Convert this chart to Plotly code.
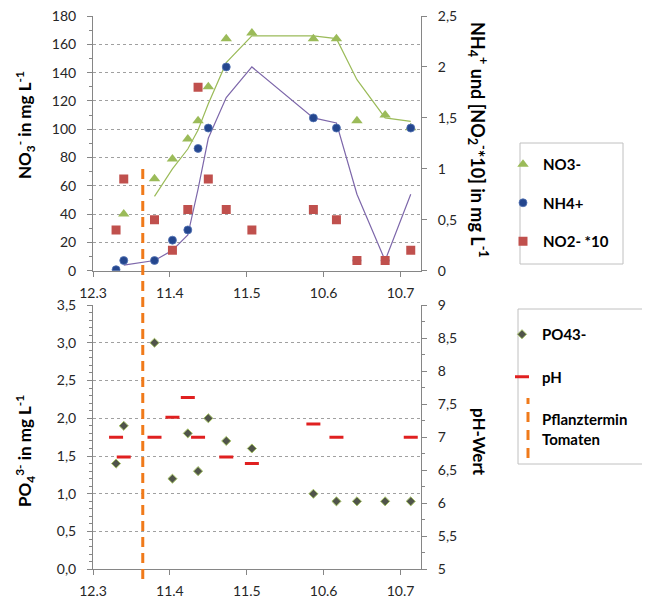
import plotly.graph_objects as go

# ---------------- data ----------------
dates = ["2012-03-21", "2012-03-24", "2012-04-05", "2012-04-12", "2012-04-18",
         "2012-04-22", "2012-04-26", "2012-05-03", "2012-05-13", "2012-06-06",
         "2012-06-15", "2012-06-23", "2012-07-04", "2012-07-14"]
no3 = [None, 40, 65, 79, 93, 106, 130, 164, 168, 164, 164, 106, 110, 101]
nh4 = [0.01, 0.1, 0.1, 0.3, 0.4, 1.2, 1.4, 2.0, None, 1.5, 1.4, 0.1, 0.1, 1.4]
no2_x10 = [0.4, 0.9, 0.5, 0.2, 0.6, 1.8, 0.9, 0.6, 0.4, 0.6, 0.5, 0.1, 0.1, 0.2]
po4 = [1.4, 1.9, 3.0, 1.2, 1.8, 1.3, 2.0, 1.7, 1.6, 1.0, 0.9, 0.9, 0.9, 0.9]
ph = [7.0, 6.7, 7.0, 7.3, 7.6, 7.0, None, 6.7, 6.6, 7.2, 7.0, None, None, 7.0]
plant_date = "2012-03-31 10:00"

tick_dates = ["2012-03-12", "2012-04-11", "2012-05-11", "2012-06-10", "2012-07-10"]
x_range = ["2012-03-12", "2012-07-18"]


def moving_avg2(values):
    """Excel-like 2-period moving average trendline (blank cells ignored)."""
    out = [None] * len(values)
    start = next(i for i, v in enumerate(values) if v is not None)
    for i in range(start + 1, len(values)):
        w = [v for v in (values[i - 1], values[i]) if v is not None]
        out[i] = sum(w) / len(w) if w else None
    return out


# page body has an 8px default margin: the figure is placed at (8, 8)
OFF = 8
W, H = 650 - OFF, 599 - OFF
FONT = "Lato"
TXT = "#262626"
AX = "#868686"
GRID = "#A0A0A0"
ORANGE = "#F07A1A"

def px(x):
    return (x - OFF) / W

def py(y):
    return 1 - (y - OFF) / H

xdom = [px(93), px(421)]
top_dom = [py(270.7), py(16)]
bot_dom = [py(569.3), py(305)]

fig = go.Figure()

# ---- top chart ----
fig.add_trace(go.Scatter(x=dates, y=moving_avg2(no3), mode="lines",
                         line=dict(color="#9BBB59", width=1.2),
                         xaxis="x", yaxis="y", showlegend=False, hoverinfo="skip"))
fig.add_trace(go.Scatter(x=dates, y=moving_avg2(nh4), mode="lines",
                         line=dict(color="#7D67AA", width=1.2),
                         xaxis="x", yaxis="y2", showlegend=False, hoverinfo="skip"))
fig.add_trace(go.Scatter(x=dates, y=no3, mode="markers", name="NO3-",
                         marker=dict(symbol="triangle-up", size=10, color="#9BBB59"),
                         xaxis="x", yaxis="y", legend="legend", legendgroup="a"))
fig.add_trace(go.Scatter(x=dates, y=nh4, mode="markers", name="NH4+",
                         marker=dict(symbol="circle", size=8, color="#24468E",
                                     line=dict(color="#5474B4", width=0.8)),
                         xaxis="x", yaxis="y2", legend="legend", legendgroup="b"))
fig.add_trace(go.Scatter(x=dates, y=no2_x10, mode="markers", name="NO2- *10",
                         marker=dict(symbol="square", size=9, color="#C0504D"),
                         xaxis="x", yaxis="y2", legend="legend", legendgroup="c"))

# ---- bottom chart ----
fig.add_trace(go.Scatter(x=dates, y=po4, mode="markers", name="PO43-",
                         marker=dict(symbol="diamond", size=7, color="#50544A",
                                     line=dict(color="#A8C468", width=1)),
                         xaxis="x2", yaxis="y3", legend="legend2", legendgroup="d"))
fig.add_trace(go.Scatter(x=dates, y=ph, mode="markers", name="pH",
                         marker=dict(symbol="line-ew", size=10,
                                     line=dict(color="#E02020", width=3)),
                         xaxis="x2", yaxis="y4", legend="legend2", legendgroup="e"))
# legend entry for the planting date (its vertical dashed symbol is drawn as a shape)
fig.add_trace(go.Scatter(x=[None], y=[None], mode="markers", name="Pflanztermin<br>Tomaten",
                         marker=dict(symbol="line-ns", size=1, color="rgba(0,0,0,0)",
                                     line=dict(color="rgba(0,0,0,0)", width=0)),
                         xaxis="x2", yaxis="y4", legend="legend2", legendgroup="f"))

# planting date dashed line spanning both charts
fig.add_shape(type="line", xref="x2", yref="paper", x0=plant_date, x1=plant_date,
              y0=py(579), y1=py(165), line=dict(color=ORANGE, width=3, dash="10px,6px"))
# legend symbol for the planting date
fig.add_shape(type="line", xref="paper", yref="paper", x0=px(528), x1=px(528),
              y0=py(458), y1=py(398), line=dict(color=ORANGE, width=3, dash="10px,8px"))

# legend boxes
fig.add_shape(type="rect", xref="paper", yref="paper", x0=px(520), x1=px(623),
              y0=py(264), y1=py(143), line=dict(color="#C0C0C0", width=1))
fig.add_shape(type="rect", xref="paper", yref="paper", x0=px(518), x1=px(648),
              y0=py(464), y1=py(309), line=dict(color="#C0C0C0", width=1))

tickfont = dict(family=FONT, size=14, color=TXT)
xcommon = dict(type="date", range=x_range, domain=xdom, tickvals=tick_dates,
               tickformat="%-d.%-m", showline=True, linecolor=AX, linewidth=1,
               ticks="outside", ticklen=5, tickcolor=AX, showgrid=False,
               zeroline=False, tickfont=tickfont, ticklabelstandoff=4, automargin=False,
               ticklabeloverflow="allow")
ycommon = dict(showline=True, linecolor=AX, ticks="outside", ticklen=5, tickcolor=AX,
               zeroline=False, tickfont=tickfont, ticklabelstandoff=8,
               automargin=False, ticklabeloverflow="allow")

fig.update_layout(
    width=W, height=H,
    margin=dict(l=0, r=0, t=0, b=0, autoexpand=False),
    paper_bgcolor="white", plot_bgcolor="white",
    separators=",.",
    font=dict(family=FONT, color=TXT),
    xaxis=dict(anchor="y", **xcommon),
    xaxis2=dict(anchor="y3", **xcommon),
    yaxis=dict(domain=top_dom, range=[0, 180], dtick=20, showgrid=True,
               gridcolor=GRID, griddash="dot", gridwidth=1,
               minor=dict(dtick=10, ticks="outside", ticklen=3, tickcolor=AX, showgrid=False),
               anchor="x", **ycommon),
    yaxis2=dict(overlaying="y", side="right", range=[0, 2.5], dtick=0.5, showgrid=False,
                anchor="x", **ycommon),
    yaxis3=dict(domain=bot_dom, range=[0, 3.5], dtick=0.5, tickformat=".1f",
                showgrid=True, gridcolor=GRID, griddash="dot", gridwidth=1,
                minor=dict(dtick=0.1, ticks="outside", ticklen=3, tickcolor=AX, showgrid=False),
                anchor="x2", **ycommon),
    yaxis4=dict(overlaying="y3", side="right", range=[5, 9], dtick=0.5, showgrid=False,
                minor=dict(dtick=0.25, ticks="outside", ticklen=3, tickcolor=AX),
                anchor="x2", **ycommon),
    legend=dict(x=px(503), y=py(148), xanchor="left", yanchor="top",
                bgcolor="rgba(0,0,0,0)", borderwidth=0, tracegroupgap=16,
                font=dict(family=FONT, size=15, color="#000000", weight="bold")),
    legend2=dict(x=px(502), y=py(318), xanchor="left", yanchor="top",
                 bgcolor="rgba(0,0,0,0)", borderwidth=0, tracegroupgap=20,
                 font=dict(family=FONT, size=15, color="#000000", weight="bold")),
)

titles = [
    ("NO<sub>3</sub><sup>-</sup> in mg L<sup>-1</sup>", 25, 125, -90, 17),
    ("NH<sub>4</sub><sup>+</sup> und [NO<sub>2</sub><sup>-</sup>*10] in mg L<sup>-1</sup>", 478, 140, 90, 18),
    ("PO<sub>4</sub><sup>3-</sup> in mg L<sup>-1</sup>", 25, 451, -90, 17),
    ("pH-Wert", 480, 442, 90, 17),
]
for text, x, y, ang, size in titles:
    fig.add_annotation(text=text, x=px(x), y=py(y), xref="paper", yref="paper",
                       showarrow=False, textangle=ang,
                       font=dict(family=FONT, size=size, color="#000000", weight="bold"),
                       xanchor="center", yanchor="middle")

fig.write_html("out.html")
